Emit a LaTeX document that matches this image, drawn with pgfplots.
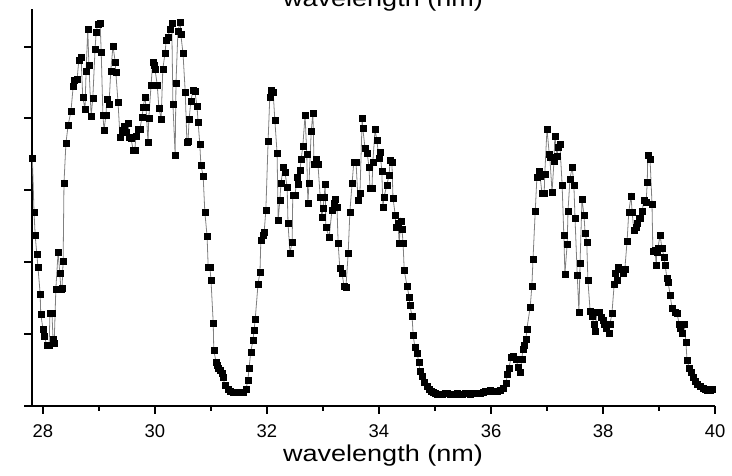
\documentclass[border=0pt]{standalone}
\usepackage{fontspec}
\setmainfont{Liberation Sans}
\usepackage{pgfplots}
\usepackage{pgfplotstable}
\pgfplotsset{compat=1.18}
\newcommand{\tl}{\fontsize{18.5}{22}\selectfont}
\pgfplotsset{every x tick label/.append style={font=\tl, anchor=base, yshift=-24bp}}
\pgfplotstableread{
x y
27.81 248
27.84 194
27.86 171
27.89 152
27.91 139
27.95 112
27.96 92
28.00 77
28.02 70
28.07 61
28.11 61
28.125 93
28.16 93
28.18 67
28.20 63
28.23 117
28.27 154
28.30 133
28.32 117
28.34 118
28.36 145
28.375 223
28.41 263
28.45 281
28.50 295
28.54 320
28.55 326
28.61 327
28.64 346
28.68 349
28.71 309
28.75 297
28.77 335
28.80 377
28.82 341
28.86 290
28.89 308
28.93 357
28.95 374
28.98 382
29.02 383
29.04 354
29.07 291
29.09 276
29.125 291
29.14 307
29.18 302
29.21 335
29.25 360
29.29 344
29.30 334
29.34 304
29.375 269
29.41 276
29.45 280
29.48 274
29.52 283
29.54 269
29.57 268
29.61 256
29.64 256
29.66 270
29.70 277
29.73 277
29.77 289
29.79 299
29.82 309
29.84 299
29.875 264
29.89 288
29.93 321
29.96 344
29.98 341
30.00 337
30.04 321
30.07 298
30.11 287
30.14 337
30.18 353
30.20 366
30.23 369
30.27 377
30.30 383
30.32 302
30.36 251
30.375 323
30.41 375
30.45 384
30.46 372
30.50 353
30.54 314
30.57 264
30.59 265
30.61 287
30.64 305
30.68 316
30.71 315
30.75 300
30.77 284
30.80 262
30.82 241
30.86 230
30.89 194
30.93 170
30.95 139
30.98 139
31.00 126
31.04 83
31.05 56
31.09 44
31.11 41
31.125 38
31.16 36
31.20 33
31.21 29
31.25 21
31.30 17
31.34 15
31.39 14
31.43 14
31.46 14
31.52 14
31.57 14
31.625 17
31.66 26
31.68 38
31.71 54
31.75 66
31.77 76
31.79 87
31.84 122
31.875 134
31.89 166
31.93 171
31.95 174
31.98 196
32.02 265
32.05 309
32.07 316
32.11 314
32.14 286
32.18 253
32.20 186
32.23 206
32.25 223
32.29 239
32.32 234
32.36 219
32.375 183
32.41 153
32.45 164
32.46 211
32.50 211
32.54 229
32.55 222
32.59 236
32.61 247
32.64 260
32.68 291
32.71 252
32.73 203
32.75 223
32.79 275
32.82 293
32.84 242
32.875 247
32.91 242
32.95 209
32.98 189
33.00 198
33.02 209
33.04 222
33.05 179
33.11 169
33.16 196
33.20 203
33.21 207
33.25 199
33.27 163
33.30 138
33.34 133
33.375 120
33.41 119
33.45 153
33.48 194
33.52 223
33.55 244
33.59 244
33.625 206
33.66 213
33.70 288
33.71 278
33.75 258
33.79 253
33.82 239
33.84 218
33.875 218
33.89 244
33.93 277
33.96 266
34.00 248
34.02 254
34.05 235
34.07 199
34.09 209
34.14 221
34.18 231
34.20 246
34.23 244
34.25 208
34.29 191
34.30 179
34.34 183
34.36 163
34.39 185
34.41 177
34.43 163
34.45 136
34.50 120
34.54 109
34.55 101
34.59 90
34.61 71
34.64 59
34.68 53
34.71 44
34.73 35
34.77 30
34.80 24
34.86 20
34.89 17
34.93 15
34.96 14
35.00 13
35.04 12
35.09 12
35.125 12
35.18 13
35.21 13
35.27 12
35.30 12
35.36 12
35.39 13
35.45 12
35.48 12
35.54 13
35.57 13
35.625 12
35.66 13
35.71 13
35.75 13
35.80 13
35.86 14
35.89 15
35.93 15
35.98 16
36.04 15
36.07 15
36.11 15
36.16 16
36.21 18
36.27 23
36.29 32
36.32 38
36.36 49
36.39 50
36.45 47
36.48 39
36.52 34
36.55 47
36.57 57
36.59 61
36.625 67
36.64 77
36.70 99
36.73 120
36.75 147
36.79 195
36.82 229
36.86 235
36.875 230
36.91 213
36.95 213
36.96 232
37.00 277
37.04 252
37.05 249
37.09 214
37.125 245
37.14 270
37.18 250
37.20 259
37.23 262
37.27 221
37.30 171
37.32 132
37.36 162
37.375 195
37.41 227
37.45 239
37.48 221
37.50 188
37.54 131
37.57 94
37.59 143
37.625 207
37.66 191
37.68 173
37.71 164
37.73 126
37.77 95
37.80 90
37.84 82
37.86 75
37.89 94
37.93 94
37.96 89
38.00 86
38.02 82
38.05 78
38.11 73
38.125 82
38.16 93
38.20 122
38.21 133
38.25 126
38.27 139
38.30 137
38.36 133
38.39 137
38.43 165
38.46 194
38.50 210
38.52 194
38.55 176
38.59 179
38.61 183
38.64 188
38.66 188
38.70 195
38.73 206
38.77 204
38.79 224
38.80 251
38.84 247
38.875 202
38.89 155
38.93 156
38.95 141
38.96 154
38.98 158
39.02 171
39.05 158
39.09 149
39.11 141
39.14 128
39.16 124
39.20 111
39.23 98
39.29 94
39.32 93
39.36 82
39.375 78
39.41 73
39.45 82
39.48 64
39.50 46
39.54 38
39.57 34
39.61 29
39.64 25
39.68 22
39.73 20
39.79 18
39.82 17
39.86 16
39.91 16
39.95 17
}\spec
\begin{document}
\begin{tikzpicture}[x=1bp,y=1bp]
\begin{axis}[
  at={(32bp,70bp)}, anchor=south west,
  scale only axis, width=683bp, height=397bp,
  xmin=27.804, xmax=40, ymin=0, ymax=397,
  axis x line*=bottom, axis y line*=left,
  axis line style={line width=1.8bp},
  xtick={28,30,...,40}, minor xtick={29,31,...,39},
  xticklabels={{\tl 28},{\tl 30},{\tl 32},{\tl 34},{\tl 36},{\tl 38},{\tl 40}},
  ytick={0,72,144,216,288,359}, yticklabels={},
  tick align=outside,
  major tick length=8bp, minor tick length=5bp,
  every tick/.append style={line width=1.5bp, black},
  clip=true,
]
\addplot[black!50, line width=0.8bp, mark=square*, mark size=3bp,
  mark options={black, solid, line width=0.3bp}] table[x=x,y=y] {\spec};
\end{axis}
\node[anchor=base, font=\fontsize{23}{26}\selectfont] at (383,14) {\scalebox{1.18}[1]{wavelength (nm)}};
\node[anchor=base, font=\fontsize{23}{26}\selectfont] at (383,469) {\scalebox{1.18}[1]{wavelength (nm)}};
\pgfresetboundingbox
\path[use as bounding box] (0,0) rectangle (732,476);
\end{tikzpicture}
\end{document}
